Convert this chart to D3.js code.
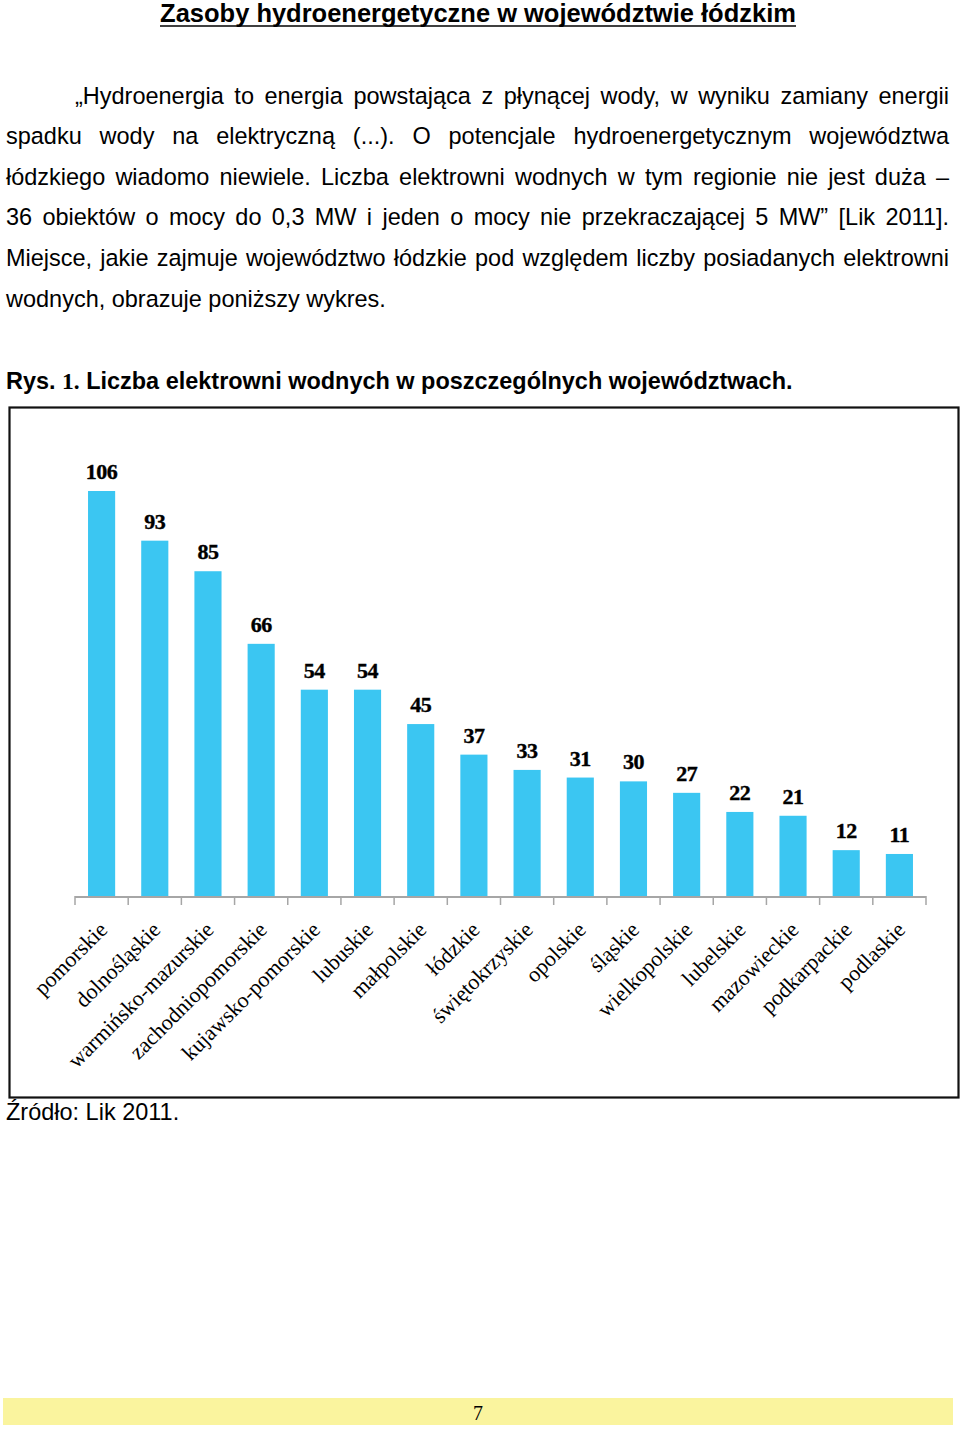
<!DOCTYPE html>
<html>
<head>
<meta charset="utf-8">
<script src="https://cdn.jsdelivr.net/npm/d3@7"></script>
<style>
  html, body { margin: 0; padding: 0; background: #fff; }
  svg { display: block; }
</style>
</head>
<body>
<svg id="page" width="960" height="1430"></svg>
<script>
const categories = ["pomorskie","dolnośląskie","warmińsko-mazurskie","zachodniopomorskie","kujawsko-pomorskie","lubuskie","małpolskie","łódzkie","świętokrzyskie","opolskie","śląskie","wielkopolskie","lubelskie","mazowieckie","podkarpackie","podlaskie"];
const values = [106,93,85,66,54,54,45,37,33,31,30,27,22,21,12,11];

const titleText = "Zasoby hydroenergetyczne w województwie łódzkim";
const paragraphLines = [
  "„Hydroenergia to energia powstająca z płynącej wody, w wyniku zamiany energii",
  "spadku wody na elektryczną (...). O potencjale hydroenergetycznym województwa",
  "łódzkiego wiadomo niewiele. Liczba elektrowni wodnych w tym regionie nie jest duża –",
  "36 obiektów o mocy do 0,3 MW i jeden o mocy nie przekraczającej 5 MW” [Lik 2011].",
  "Miejsce, jakie zajmuje województwo łódzkie pod względem liczby posiadanych elektrowni",
  "wodnych, obrazuje poniższy wykres."
];
const captionParts = ["Rys. ", "1.", " Liczba elektrowni wodnych w poszczególnych województwach."];
const sourceText = "Źródło: Lik 2011.";
const pageNumber = "7";

const svg = d3.select("#page");
const SANS = "'Liberation Sans', Arial, sans-serif";
const SERIF = "'Liberation Serif', 'Times New Roman', serif";

function measure(txt, size, family, weight) {
  const t = svg.append("text").attr("font-size", size).attr("font-family", family)
    .attr("font-weight", weight || "normal").text(txt);
  const w = t.node().getComputedTextLength();
  t.remove();
  return w;
}

// Title
const titleSize = 20 * 636 / measure(titleText, 20, SANS, "bold");
svg.append("text").attr("x", 478).attr("y", 22).attr("text-anchor", "middle")
  .attr("font-family", SANS).attr("font-weight", "bold").attr("font-size", titleSize)
  .attr("fill", "#000").text(titleText);
svg.append("line").attr("x1", 160).attr("x2", 796).attr("y1", 26).attr("y2", 26)
  .attr("stroke", "#000").attr("stroke-width", 1.6);

// Paragraph
const pSize = 20 * 380 / measure(paragraphLines[5], 20, SANS);
const lineY = [104, 144, 185, 225, 266, 307];
paragraphLines.forEach((line, i) => {
  const x0 = i === 0 ? 75 : 6;
  const x1 = 949;
  const t = svg.append("text").attr("y", lineY[i]).attr("font-family", SANS)
    .attr("font-size", pSize).attr("fill", "#000");
  if (i === paragraphLines.length - 1) {
    t.attr("x", x0).text(line);
    return;
  }
  const words = line.split(" ");
  const widths = words.map(w => measure(w, pSize, SANS));
  const gap = (x1 - x0 - d3.sum(widths)) / (words.length - 1);
  let x = x0;
  words.forEach((w, j) => {
    t.append("tspan").attr("x", x).text(w);
    x += widths[j] + gap;
  });
});

// Caption
const capFull = captionParts.join("");
const capSize = 20 * 789 / measure(capFull, 20, SANS, "bold");
const cap = svg.append("text").attr("x", 6).attr("y", 389).attr("font-weight", "bold")
  .attr("font-size", capSize).attr("font-family", SANS).attr("fill", "#000");
cap.append("tspan").text(captionParts[0]);
cap.append("tspan").attr("font-family", SERIF).text(captionParts[1]);
cap.append("tspan").text(captionParts[2]);

// Chart frame
svg.append("rect").attr("x", 9.5).attr("y", 407.5).attr("width", 949).attr("height", 690)
  .attr("fill", "#fff").attr("stroke", "#111").attr("stroke-width", 2.2);

// Scales
const x = d3.scaleBand().domain(categories).range([75, 926])
  .paddingInner(0.49).paddingOuter(0.245);
const y = d3.scaleLinear().domain([0, 106]).range([896, 491]);

// Bars
svg.append("g").selectAll("rect").data(values).join("rect")
  .attr("x", (d, i) => x(categories[i]))
  .attr("y", d => y(d))
  .attr("width", x.bandwidth())
  .attr("height", d => y(0) - y(d))
  .attr("fill", "#3BC6F2");

// Axis line + boundary ticks
const axisG = svg.append("g");
axisG.append("line").attr("x1", x.range()[0]).attr("x2", x.range()[1])
  .attr("y1", y(0) + 1).attr("y2", y(0) + 1).attr("stroke", "#A6A6A6").attr("stroke-width", 2);
d3.range(categories.length + 1).forEach(i => {
  const tx = x.range()[0] + i * x.step();
  axisG.append("line").attr("x1", tx).attr("x2", tx).attr("y1", y(0)).attr("y2", y(0) + 9)
    .attr("stroke", "#A6A6A6").attr("stroke-width", 1.5);
});

// Value labels
svg.append("g").selectAll("text").data(values).join("text")
  .attr("x", (d, i) => x(categories[i]) + x.bandwidth() / 2)
  .attr("y", d => y(d) - 12)
  .attr("text-anchor", "middle")
  .attr("font-family", SERIF).attr("font-weight", "bold").attr("font-size", 22)
  .attr("letter-spacing", -0.5)
  .attr("stroke", "#000").attr("stroke-width", 0.4)
  .attr("fill", "#000")
  .text(d => d);

// Category labels
svg.append("g").selectAll("text").data(categories).join("text")
  .attr("transform", d => `translate(${x(d) + x.bandwidth() / 2 + 7},${y(0) + 35}) rotate(-45)`)
  .attr("text-anchor", "end")
  .attr("font-family", SERIF).attr("font-size", 22).attr("fill", "#000")
  .text(d => d);

// Source
svg.append("text").attr("x", 6).attr("y", 1120).attr("font-family", SANS)
  .attr("font-size", pSize).attr("fill", "#000").text(sourceText);

// Footer band
svg.append("rect").attr("x", 3).attr("y", 1398).attr("width", 950).attr("height", 27)
  .attr("fill", "#FAF49E");
svg.append("text").attr("x", 478).attr("y", 1420).attr("text-anchor", "middle")
  .attr("font-family", SERIF).attr("font-size", 20).attr("fill", "#000").text(pageNumber);
</script>
</body>
</html>
